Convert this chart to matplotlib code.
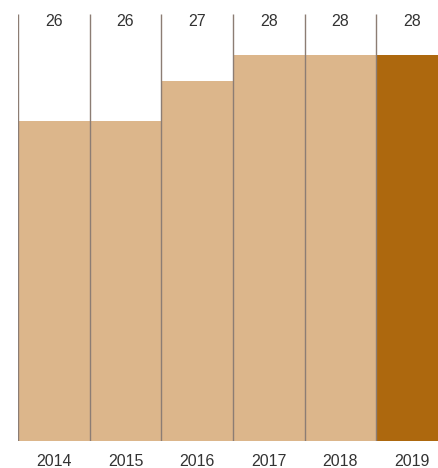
import numpy as np
import matplotlib.pyplot as plt

plt.rcParams['font.family'] = ['Liberation Sans', 'DejaVu Sans']

years = ['2014', '2015', '2016', '2017', '2018', '2019']
values = [26.0, 26.0, 27.0, 27.65, 27.65, 27.65]
labels = ['26', '26', '27', '28', '28', '28']
colors = ['#dcb68b'] * 5 + ['#ad680e']

W, H = 439, 468
fig = plt.figure(figsize=(W / 100, H / 100), dpi=100)
# axes runs past the right edge, so the last bar gets clipped like the original
ax = fig.add_axes([18 / W, (H - 441) / H, 430 / W, 427 / H])

x = np.arange(len(years))
ax.bar(x, values, width=1.0, align='edge', color=colors, zorder=1)
ax.vlines(x, 18, 28.675, color='#8c7d74', lw=1.0, zorder=2)

ax.set_xlim(0, len(years))
ax.set_ylim(18, 28.675)

for xi, lab, yr in zip(x, labels, years):
    ax.text(xi + 0.5, 28.675 - 8 / 40, lab, ha='center', va='center',
            fontsize=11.5, color='#333333')
    ax.text(xi + 0.5, 18 - 20 / 40, yr, ha='center', va='center',
            fontsize=11.5, color='#333333', clip_on=False)

ax.axis('off')
fig.savefig('out.png', dpi=100)
